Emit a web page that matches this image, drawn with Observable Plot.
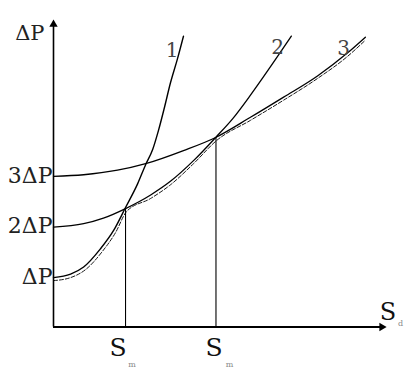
<!DOCTYPE html>
<html>
<head>
<meta charset="utf-8">
<script src="https://cdn.jsdelivr.net/npm/d3@7"></script>
<script src="https://cdn.jsdelivr.net/npm/@observablehq/plot@0.6"></script>
<style>
  html, body { margin: 0; padding: 0; background: #fff; }
</style>
</head>
<body>
<div id="chart"></div>
<script>
// ---- data ----
const yTickValues = [1, 2, 3];
const yTickLabels = ["ΔP", "2ΔP", "3ΔP"];

const curve1X = [0, 0.51, 0.90, 1.40, 1.79, 2.15, 2.51, 2.75, 2.96, 3.13, 3.31, 3.49, 3.70, 3.88];
const curve1Y = [0.98, 1.05, 1.19, 1.55, 1.91, 2.37, 2.84, 3.22, 3.52, 3.89, 4.35, 4.84, 5.32, 5.77];

const curve2X = [0, 0.90, 1.49, 2.15, 2.90, 3.49, 4.18, 4.84, 5.37, 5.88, 6.39, 6.78, 7.10];
const curve2Y = [1.98, 2.05, 2.16, 2.35, 2.62, 2.89, 3.30, 3.76, 4.15, 4.60, 5.08, 5.46, 5.77];

const curve3X = [0, 0.90, 1.91, 2.75, 3.88, 4.84, 5.88, 6.87, 7.88, 8.78, 9.31];
const curve3Y = [2.99, 3.02, 3.11, 3.24, 3.50, 3.76, 4.16, 4.56, 4.98, 5.44, 5.75];

const envelopeX = [0, 0.51, 0.96, 1.46, 1.85, 2.18, 2.90, 3.49, 4.18, 4.87, 5.88, 6.87, 7.88, 8.78, 9.31];
const envelopeY = [0.92, 0.98, 1.14, 1.50, 1.87, 2.29, 2.55, 2.82, 3.24, 3.70, 4.10, 4.50, 4.93, 5.37, 5.69];

const curveNames = ["1", "2", "3"];
const curveLabelX = [3.54, 6.69, 8.66];
const curveLabelY = [5.48, 5.54, 5.52];

const sLineX = [2.15, 4.85];
const sLineTop = [2.35, 3.76];
const sLineName = ["S", "S"];
const sLineSub = ["m", "m"];
const axisEndName = "S";
const axisEndSub = "d";
const yAxisTitle = "ΔP";

const xMax = 10, yMax = 6.14;

// ---- build tables ----
const toPts = (xs, ys) => xs.map((x, i) => ({x, y: ys[i]}));
const c1 = toPts(curve1X, curve1Y);
const c2 = toPts(curve2X, curve2Y);
const c3 = toPts(curve3X, curve3Y);
const env = toPts(envelopeX, envelopeY);
const labels = curveNames.map((t, i) => ({t, x: curveLabelX[i], y: curveLabelY[i]}));
const sLines = sLineX.map((x, i) => ({x, top: sLineTop[i], name: sLineName[i], sub: sLineSub[i]}));

const serif = "DejaVu Serif, serif";
const nameDx = [-7.5, -2];
const subDx = [6.5, 13.5];

const sMarks = sLines.flatMap((s, i) => [
  Plot.text([s], {x: "x", y: 0, text: "name", dx: nameDx[i], dy: 21, fontSize: 25, fontFamily: serif, fill: "#111"}),
  Plot.text([s], {x: "x", y: 0, text: "sub", dx: subDx[i], dy: 37.5, fontSize: 8, fontFamily: serif, fill: "#888"})
]);

const chart = Plot.plot({
  width: 410,
  height: 368,
  marginLeft: 53,
  marginRight: 22,
  marginTop: 17,
  marginBottom: 41.5,
  style: {fontFamily: serif, background: "#fff", color: "#111", overflow: "visible"},
  x: {domain: [0, xMax], axis: null},
  y: {domain: [0, yMax], axis: null},
  marks: [
    Plot.axisY({
      ticks: yTickValues,
      tickFormat: d => yTickLabels[yTickValues.indexOf(d)],
      tickSize: 0,
      tickPadding: 1,
      fontSize: 22,
      fontFamily: serif,
      fill: "#222",
      label: null
    }),
    // axes lines
    Plot.ruleX([0], {y1: 0, y2: 6.0, stroke: "#000", strokeWidth: 1.6}),
    Plot.ruleY([0], {x1: 0, x2: 9.8, stroke: "#000", strokeWidth: 2}),
    Plot.dot([{x: 0, y: 6.006}], {x: "x", y: "y", symbol: "triangle2", r: 4, fill: "#000", stroke: null}),
    Plot.dot([{x: 9.8, y: 0}], {x: "x", y: "y", symbol: "triangle2", r: 4, fill: "#000", stroke: null, rotate: 90}),
    // vertical S lines
    Plot.ruleX(sLines, {x: "x", y1: 0, y2: "top", stroke: "#000", strokeWidth: 1.1}),
    // dashed envelope
    Plot.line(env, {x: "x", y: "y", curve: "monotone-x", stroke: "#000", strokeWidth: 0.9, strokeDasharray: "4,2"}),
    // curves
    Plot.line(c1, {x: "x", y: "y", curve: "monotone-x", stroke: "#000", strokeWidth: 1.4}),
    Plot.line(c2, {x: "x", y: "y", curve: "monotone-x", stroke: "#000", strokeWidth: 1.3}),
    Plot.line(c3, {x: "x", y: "y", curve: "monotone-x", stroke: "#000", strokeWidth: 1.3}),
    // curve labels
    Plot.text(labels, {x: "x", y: "y", text: "t", fontSize: 20, fontFamily: serif, fill: "#444"}),
    // top y label
    Plot.text([yAxisTitle], {x: 0, y: yMax, text: d => d, textAnchor: "end", dx: -9, dy: 16, fontSize: 21, fontFamily: serif, fill: "#222"}),
    // S labels under the axis
    ...sMarks,
    // x-axis end label
    Plot.text([axisEndName], {x: xMax, y: 0, text: d => d, dx: -0.5, dy: -15, fontSize: 24, fontFamily: serif, fill: "#111"}),
    Plot.text([axisEndSub], {x: xMax, y: 0, text: d => d, dx: 12, dy: -3.5, fontSize: 8, fontFamily: serif, fill: "#888"})
  ]
});

document.getElementById("chart").appendChild(chart);
</script>
</body>
</html>
